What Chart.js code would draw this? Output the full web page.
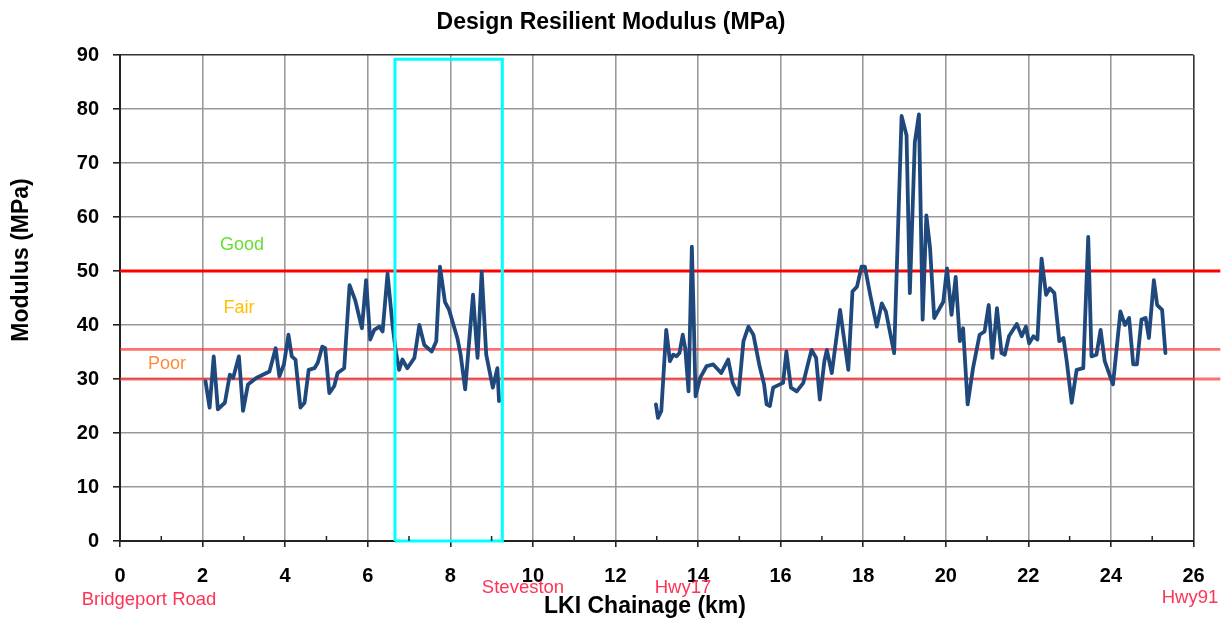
<!DOCTYPE html>
<html>
<head>
<meta charset="utf-8">
<script src="https://cdn.jsdelivr.net/npm/chart.js@4.4.1/dist/chart.umd.min.js"></script>
<style>
  html, body { margin: 0; padding: 0; background: #ffffff; }
  #wrap { width: 1223px; height: 621px; position: relative; }
</style>
</head>
<body>
<div id="wrap"><canvas id="c" width="1223" height="621"></canvas></div>
<script>
// ---- Data ----
const chainageA = [2.07,2.17,2.27,2.37,2.54,2.66,2.74,2.88,2.98,3.10,3.30,3.62,3.77,3.86,3.97,4.08,4.16,4.25,4.37,4.47,4.57,4.71,4.79,4.90,4.97,5.07,5.19,5.27,5.43,5.56,5.70,5.86,5.96,6.06,6.16,6.28,6.36,6.48,6.60,6.68,6.76,6.84,6.96,7.13,7.25,7.37,7.55,7.66,7.75,7.87,7.97,8.17,8.25,8.36,8.55,8.66,8.76,8.87,9.03,9.14,9.18];
const modulusA  = [29.6,24.7,34.2,24.4,25.6,30.8,30.2,34.2,24.1,29.0,30.2,31.4,35.7,30.5,32.7,38.2,34.2,33.6,24.7,25.6,31.7,32.0,33.0,36.0,35.7,27.4,28.7,31.1,32.0,47.4,44.5,39.4,48.3,37.3,39.1,39.7,38.8,49.5,40.0,35.1,31.7,33.6,32.0,33.9,40.0,36.3,35.1,37.0,50.8,44.3,42.8,37.6,34.5,28.1,45.6,33.9,49.9,34.5,28.4,32.0,25.9];

const chainageB = [12.98,13.03,13.11,13.23,13.32,13.40,13.48,13.55,13.63,13.69,13.77,13.85,13.89,13.94,14.05,14.21,14.37,14.56,14.73,14.84,14.98,15.10,15.22,15.34,15.49,15.60,15.66,15.74,15.82,15.98,16.06,16.14,16.25,16.39,16.55,16.67,16.75,16.86,16.95,17.06,17.12,17.24,17.44,17.64,17.74,17.85,17.96,18.04,18.17,18.33,18.45,18.55,18.75,18.93,19.05,19.13,19.25,19.35,19.44,19.53,19.62,19.72,19.94,20.03,20.14,20.24,20.34,20.42,20.53,20.66,20.82,20.94,21.04,21.13,21.24,21.35,21.43,21.53,21.72,21.84,21.94,22.02,22.12,22.22,22.32,22.43,22.52,22.63,22.75,22.85,22.93,23.05,23.17,23.33,23.45,23.53,23.65,23.75,23.85,24.05,24.23,24.34,24.44,24.54,24.63,24.74,24.84,24.92,25.04,25.12,25.24,25.32];
const modulusB  = [25.3,22.8,24.1,39.1,33.3,34.5,34.2,34.8,38.2,35.7,27.7,54.5,43.1,26.8,30.2,32.4,32.7,31.1,33.6,29.3,27.1,37.0,39.7,38.2,32.4,29.0,25.3,25.0,28.4,29.0,29.3,35.1,28.4,27.7,29.3,33.0,35.4,33.9,26.2,33.3,35.4,31.1,42.8,31.7,46.2,47.1,50.8,50.8,45.6,39.7,44.0,42.5,34.8,78.7,75.1,45.9,73.8,79.0,41.0,60.3,54.2,41.3,44.3,50.5,41.9,48.9,37.0,39.4,25.3,32.0,38.2,38.8,43.7,33.9,43.1,34.8,34.5,37.9,40.2,37.9,39.7,36.6,37.9,37.3,52.3,45.6,46.8,45.9,37.0,37.6,33.3,25.6,31.7,32.0,56.3,34.2,34.5,39.1,33.3,29.0,42.5,40.0,41.3,32.7,32.7,41.0,41.3,37.6,48.3,43.7,42.8,34.8];

const thresholdNames  = ['Good', 'Fair', 'Poor'];
const thresholdValues = [50, 35.5, 30];
const thresholdLineEnd = 26.65;   // Excel-style lines run past the plot edge

const boxX = [6.66, 9.26];        // highlighted section (km)
const boxTop = 89.2;

const xTickValues = [0,2,4,6,8,10,12,14,16,18,20,22,24,26];
const yTickValues = [0,10,20,30,40,50,60,70,80,90];

const placeNames  = ['Bridgeport Road', 'Steveston', 'Hwy17', 'Hwy91'];

// ---- Build datasets ----
const mainPoints = [];
chainageA.forEach((x, i) => mainPoints.push({x: x, y: modulusA[i]}));
mainPoints.push({x: 11, y: null});
chainageB.forEach((x, i) => mainPoints.push({x: x, y: modulusB[i]}));

const boxPoints = [
  {x: boxX[0], y: 0}, {x: boxX[0], y: boxTop},
  {x: boxX[1], y: boxTop}, {x: boxX[1], y: 0}, {x: boxX[0], y: 0}
];

const thresholdSets = thresholdValues.map((v, i) => ({
  label: thresholdNames[i],
  data: [{x: xTickValues[0], y: v}, {x: thresholdLineEnd, y: v}],
  borderColor: i === 0 ? '#ff0000' : 'rgba(255,40,40,0.66)',
  borderWidth: i === 0 ? 3 : 2.8,
  pointRadius: 0,
  clip: false,
  fill: false
}));

const FONT = '"Liberation Sans", Arial, sans-serif';

const decor = {
  id: 'decor',
  afterDraw(chart) {
    const ctx = chart.ctx;
    const xs = chart.scales.x;
    const ca = chart.chartArea;
    ctx.save();
    // minor ticks at odd km (above axis)
    ctx.strokeStyle = '#222';
    ctx.lineWidth = 1.5;
    for (let k = 1; k < 26; k += 2) {
      const px = xs.getPixelForValue(k);
      ctx.beginPath();
      ctx.moveTo(px, ca.bottom);
      ctx.lineTo(px, ca.bottom - 5);
      ctx.stroke();
    }
    ctx.textAlign = 'center';
    ctx.textBaseline = 'middle';
    // title
    ctx.fillStyle = '#000';
    ctx.font = 'bold 23px ' + FONT;
    ctx.fillText('Design Resilient Modulus (MPa)', 611, 23);
    // x title
    ctx.font = 'bold 23px ' + FONT;
    ctx.fillText('LKI Chainage (km)', 645, 607);
    // y title
    ctx.save();
    ctx.translate(22, 260);
    ctx.rotate(-Math.PI / 2);
    ctx.font = 'bold 23px ' + FONT;
    ctx.fillText('Modulus (MPa)', 0, 0);
    ctx.restore();
    // category labels
    ctx.font = '18px ' + FONT;
    ctx.fillStyle = '#66dd33';
    ctx.fillText(thresholdNames[0], 242, 245);
    ctx.fillStyle = '#ffc000';
    ctx.fillText(thresholdNames[1], 239, 308);
    ctx.fillStyle = '#ff8c3a';
    ctx.fillText(thresholdNames[2], 167, 364);
    // place names
    ctx.fillStyle = '#ff3355';
    ctx.font = '18.5px ' + FONT;
    ctx.fillText(placeNames[0], 149, 600);
    ctx.fillText(placeNames[1], 523, 588);
    ctx.fillText(placeNames[2], 683, 588);
    ctx.fillText(placeNames[3], 1190, 598);
    ctx.restore();
  }
};

new Chart(document.getElementById('c'), {
  type: 'line',
  data: {
    datasets: [
      {
        label: 'Section',
        data: boxPoints,
        borderColor: '#00ffff',
        borderWidth: 3,
        pointRadius: 0,
        fill: false,
        clip: false
      },
      {
        label: 'Design Resilient Modulus',
        data: mainPoints,
        borderColor: '#1f497d',
        borderWidth: 3.8,
        borderJoinStyle: 'round',
        borderCapStyle: 'round',
        pointRadius: 0,
        spanGaps: false,
        tension: 0,
        fill: false
      },
      ...thresholdSets
    ]
  },
  options: {
    responsive: false,
    animation: false,
    devicePixelRatio: 1,
    layout: { padding: { left: 0, right: 29.5, top: 55, bottom: 0 } },
    plugins: {
      legend: { display: false },
      title: { display: false },
      tooltip: { enabled: false }
    },
    scales: {
      x: {
        type: 'linear',
        min: 0, max: 26,
        afterBuildTicks(scale) { scale.ticks = xTickValues.map(v => ({value: v})); },
        afterFit(scale) { scale.height = 80; },
        ticks: {
          color: '#000',
          font: { family: FONT, size: 20, weight: 'bold' },
          padding: 17,
          maxRotation: 0,
          autoSkip: false
        },
        grid: {
          color: (c) => (c.tick && c.tick.value === 26) ? '#333' : '#9a9a9a',
          lineWidth: 1.6,
          tickLength: 6,
          tickColor: '#222',
          drawTicks: true
        },
        border: { color: '#222', width: 2 }
      },
      y: {
        min: 0, max: 90,
        afterBuildTicks(scale) { scale.ticks = yTickValues.map(v => ({value: v})); },
        afterFit(scale) { scale.width = 120; },
        ticks: {
          color: '#000',
          font: { family: FONT, size: 20, weight: 'bold' },
          padding: 14,
          autoSkip: false
        },
        grid: {
          color: (c) => (c.tick && c.tick.value === 90) ? '#333' : '#9a9a9a',
          lineWidth: 1.6,
          tickLength: 7,
          tickColor: '#222'
        },
        border: { color: '#222', width: 2 }
      }
    }
  },
  plugins: [decor]
});
</script>
</body>
</html>
